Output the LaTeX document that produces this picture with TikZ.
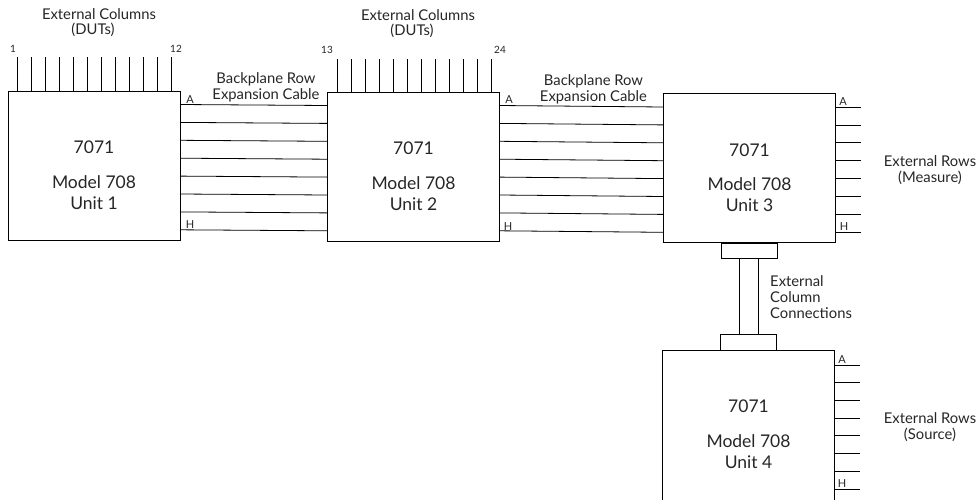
\documentclass[tikz,border=0pt]{standalone}
\usepackage{fontspec}
\setmainfont{Lato}
\usetikzlibrary{positioning}
\tikzset{
 unitbox/.style={draw, line width=0.8pt, minimum width=172pt, minimum height=149pt, inner sep=0pt, outer sep=0pt},
 plugbox/.style={draw, line width=0.8pt, minimum width=56pt, minimum height=15pt, inner sep=0pt, outer sep=0pt},
 wire/.style={line width=0.8pt},
 caption/.style={font=\fontsize{14.8}{16}\selectfont, inner sep=0pt, text=black!85},
 unitlabel/.style={font=\fontsize{17.5}{21}\selectfont, align=center, inner sep=0pt, text=black!85},
 rowletter/.style={font=\fontsize{11}{12}\selectfont, inner sep=0pt, text=black!85},
 pinlabel/.style={font=\fontsize{10}{12}\selectfont, inner sep=0pt, text=black!85}
}
\begin{document}
\begin{tikzpicture}[x=1pt, y=-1pt]
\useasboundingbox (0, 0) rectangle (978, 499);
 \node[unitbox] (unit1) at (94, 165.5) {};
 \node[unitbox] (unit2) at (413.5, 166.5) {};
 \node[unitbox] (unit3) at (749.5, 168) {};
 \node[unitbox, minimum height=153pt] (unit4) at (748.5, 426.5) {};
 \node[plugbox] (plug3) at (749, 250.5) {};
 \node[plugbox, minimum height=16pt] (plug4) at (748.5, 342) {};
 % text inside the units
 \foreach \u in {1, 2, 3, 4} {
  \node[unitlabel, below=50pt of unit\u.north] (num\u) {7071};
  \node[unitlabel, below=21pt of num\u] (name\u) {Model 708\\Unit \u};
 }
 % rows between the units
 \foreach \i in {0, ..., 7} {
  \draw[wire] ([yshift={-13.5-17.9*\i}]unit1.north east) -- ([yshift={-13.5-17.9*\i}]unit2.north west);
  \draw[wire] ([yshift={-13.5-17.9*\i}]unit2.north east) -- ([yshift={-13.5-17.9*\i}]unit3.north west);
  \coordinate (outm\i) at ([xshift=25, yshift={-13.5-17.9*\i}]unit3.north east);
  \coordinate (outs\i) at ([xshift=25, yshift={-15-17.7*\i}]unit4.north east);
  \draw[wire] ([yshift={-13.5-17.9*\i}]unit3.north east) -- (outm\i);
  \draw[wire] ([yshift={-15-17.7*\i}]unit4.north east) -- (outs\i);
 }
 % column pins on top
 \foreach \i in {0, ..., 11} {
  \coordinate (pina\i) at ([xshift={9.5+14*\i}, yshift=34]unit1.north west);
  \coordinate (pinb\i) at ([xshift={9.5+14*\i}, yshift=33]unit2.north west);
  \draw[wire] ([xshift={9.5+14*\i}]unit1.north west) -- (pina\i);
  \draw[wire] ([xshift={9.5+14*\i}]unit2.north west) -- (pinb\i);
 }
 \draw[wire] ([xshift=-10]plug3.south) -- ([xshift=-9.5]plug4.north);
 \draw[wire] ([xshift=9]plug3.south) -- ([xshift=9.5]plug4.north);
 \node[pinlabel] (pin1) at (13, 49) {1};
 \node[pinlabel] (pin12) at (176, 49) {12};
 \node[pinlabel] (pin13) at (327, 50) {13};
 \node[pinlabel] (pin24) at (500, 50) {24};
 \node[rowletter] (rowa1) at (190, 100) {A};
 \node[rowletter] (rowh1) at (190, 225) {H};
 \node[rowletter] (rowa2) at (509, 100) {A};
 \node[rowletter] (rowh2) at (508, 227) {H};
 \node[rowletter] (rowa3) at (843, 102) {A};
 \node[rowletter] (rowh3) at (844, 227) {H};
 \node[rowletter] (rowa4) at (842, 360) {A};
 \node[rowletter] (rowh4) at (842, 484) {H};
 \node[caption] (cols1) at (99, 14) {External Columns};
 \node[caption] (duts1) at (93, 30) {(DUTs)};
 \node[caption] (cols2) at (418, 15) {External Columns};
 \node[caption] (duts2) at (412, 31) {(DUTs)};
 \node[caption, align=center] (cable1) at (266, 87) {Backplane Row\\Expansion Cable};
 \node[caption, align=center] (cable2) at (593.5, 89) {Backplane Row\\Expansion Cable};
 \node[caption, align=center] (measure) at (930, 170) {External Rows\\(Measure)};
 \node[caption, align=center] (source) at (930, 427.5) {External Rows\\(Source)};
 \node[caption, align=left, anchor=west] (colcon) at (770, 297.5) {External\\Column\\Connections};
\end{tikzpicture}
\end{document}
